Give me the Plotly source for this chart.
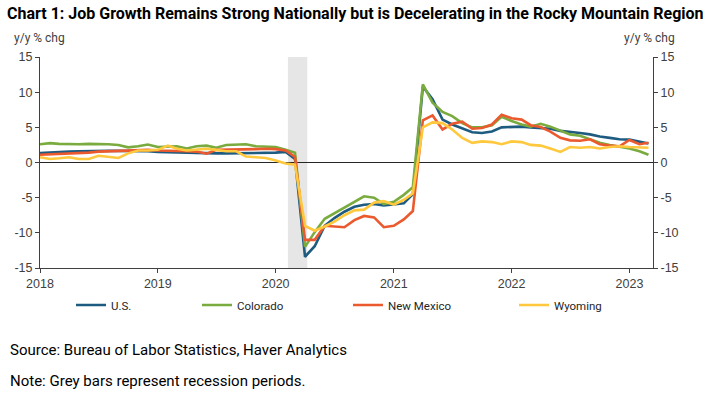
import pandas as pd
import plotly.graph_objects as go

# ---- data (y/y % change, monthly Jan 2018 - Mar 2023) ----
months = pd.date_range("2018-01-01", "2023-03-01", freq="MS")

us = [1.35, 1.45, 1.5, 1.55, 1.6, 1.65, 1.65, 1.65, 1.65, 1.65, 1.65, 1.6,
      1.5, 1.45, 1.4, 1.4, 1.35, 1.3, 1.3, 1.3, 1.3, 1.3, 1.35, 1.35,
      1.4, 1.5, 0.5, -13.4, -11.9, -9.0, -7.9, -7.0, -6.3, -6.0, -5.9, -6.1,
      -6.0, -5.8, -4.5, 10.8, 9.0, 6.1, 5.4, 4.9, 4.3, 4.2, 4.4, 5.0,
      5.05, 5.1, 5.0, 4.9, 4.8, 4.5, 4.4, 4.2, 4.0, 3.7, 3.5, 3.3,
      3.25, 3.0, 2.7]

colorado = [2.6, 2.75, 2.65, 2.6, 2.6, 2.65, 2.65, 2.6, 2.5, 2.15, 2.3, 2.55,
            2.2, 2.3, 2.3, 2.0, 2.3, 2.4, 2.1, 2.5, 2.55, 2.6, 2.3, 2.2,
            2.2, 1.8, 1.4, -12.0, -9.9, -8.0, -7.2, -6.4, -5.6, -4.8, -5.0, -5.9,
            -5.6, -4.6, -3.5, 11.1, 8.5, 7.2, 6.6, 5.6, 5.0, 5.0, 5.3, 6.5,
            5.9, 5.4, 5.1, 5.5, 5.1, 4.5, 4.0, 3.8, 3.3, 2.8, 2.5, 2.3,
            2.0, 1.6, 1.1]

new_mexico = [1.1, 1.15, 1.2, 1.25, 1.3, 1.4, 1.55, 1.6, 1.7, 1.75, 1.8, 1.8,
              1.7, 1.7, 1.65, 1.6, 1.55, 1.25, 1.8, 1.8, 1.8, 1.85, 1.9, 1.95,
              1.9, 1.7, 0.8, -11.0, -11.0, -9.0, -9.1, -9.2, -8.2, -7.6, -7.8, -9.2,
              -9.0, -8.1, -6.9, 6.0, 6.7, 4.7, 5.5, 5.8, 4.8, 4.9, 5.4, 6.8,
              6.3, 6.1, 5.3, 5.05, 4.4, 3.5, 3.15, 3.1, 3.3, 2.6, 2.4, 2.3,
              3.2, 2.6, 2.8]

wyoming = [0.75, 0.5, 0.6, 0.75, 0.5, 0.5, 0.95, 0.75, 0.65, 1.3, 1.7, 1.7,
           1.8, 2.4, 1.95, 1.7, 1.8, 1.95, 1.8, 1.6, 1.6, 0.85, 0.75, 0.65,
           0.3, -0.15, -0.3, -9.0, -9.7, -9.1, -8.4, -7.5, -6.8, -6.7, -5.7, -5.5,
           -6.0, -5.3, -4.4, 5.0, 5.7, 5.6, 4.7, 3.5, 2.8, 3.0, 2.9, 2.6,
           3.0, 2.9, 2.5, 2.4, 2.0, 1.5, 2.2, 2.1, 2.2, 2.0, 2.2, 2.3,
           2.2, 2.1, 2.1]

series_names = ["U.S.", "Colorado", "New Mexico", "Wyoming"]
series_colors = ["#1E5B80", "#7AAB3E", "#EB5A2E", "#FFC83D"]

recession_start = "2020-02-08"
recession_end = "2020-04-08"

y_ticks = [-15, -10, -5, 0, 5, 10, 15]
y_ticktext = ["-15", "-10", "-5", "0", "5", "10", "15"]
x_tickvals = ["2018-01-01", "2019-01-01", "2020-01-01", "2021-01-01", "2022-01-01", "2023-01-01"]
x_ticktext = ["2018", "2019", "2020", "2021", "2022", "2023"]

# ---- layout geometry ----
W, H = 725, 399
PL, PR, PT, PB = 40, 653, 57, 268


def px_x(x):
    return (x - PL) / (PR - PL)


def px_y(y):
    return (PB - y) / (PB - PT)


FONT = "Roboto, Liberation Sans, Arial, sans-serif"
TICKF = "Liberation Sans, Arial, sans-serif"

fig = go.Figure()

legend_ids = ["legend", "legend2", "legend3", "legend4"]
for name, vals, col, lg in zip(series_names, [us, colorado, new_mexico, wyoming], series_colors, legend_ids):
    fig.add_trace(go.Scatter(x=months, y=vals, name=name, mode="lines",
                             line=dict(color=col, width=2.6), legend=lg))

# invisible trace to anchor the right axis
fig.add_trace(go.Scatter(x=[months[0]], y=[None], yaxis="y2", showlegend=False,
                         hoverinfo="skip", mode="lines"))

fig.add_shape(type="rect", xref="x", yref="y", x0=recession_start, x1=recession_end,
              y0=-15, y1=15, fillcolor="#E6E6E6", line=dict(width=0), layer="below")

axis_common = dict(showgrid=False, showline=True, linecolor="#404040", linewidth=1,
                   ticks="outside", ticklen=4, tickcolor="#404040",
                   tickfont=dict(family=TICKF, size=12.5, color="#404040"))

fig.update_layout(
    width=W, height=H,
    margin=dict(l=PL, r=W - PR, t=PT, b=H - PB, pad=0),
    paper_bgcolor="white", plot_bgcolor="white",
    title=dict(text="<b>Chart 1: Job Growth Remains Strong Nationally but is Decelerating in the Rocky Mountain Region</b>",
               x=7 / W, xanchor="left", y=1 - 13 / H, yanchor="middle", yref="container",
               font=dict(family=FONT, size=16.0, color="#000000")),
    xaxis=dict(type="date", range=["2018-01-01", "2023-03-15"], tickvals=x_tickvals,
               ticktext=x_ticktext, **axis_common),
    yaxis=dict(range=[-15, 15], tickvals=y_ticks, ticktext=y_ticktext,
               zeroline=True, zerolinecolor="#262626", zerolinewidth=1, **axis_common),
    yaxis2=dict(range=[-15, 15], tickvals=y_ticks, ticktext=y_ticktext, overlaying="y",
                side="right", zeroline=False, **axis_common),
    showlegend=True,
)

leg_text_x = [111, 237, 388, 554]
for lg, tx in zip(legend_ids, leg_text_x):
    fig.update_layout({lg: dict(orientation="h", x=px_x(tx - 40), xanchor="left",
                                y=px_y(305), yanchor="middle", bgcolor="rgba(0,0,0,0)",
                                font=dict(family=FONT, size=11.5, color="#262626"),
                                itemwidth=30, tracegroupgap=0)})

ann_font = dict(family=FONT, size=12, color="#404040")
fig.add_annotation(text="y/y % chg", xref="paper", yref="paper", x=px_x(12), y=px_y(38),
                   xanchor="left", yanchor="middle", showarrow=False, font=ann_font)
fig.add_annotation(text="y/y % chg", xref="paper", yref="paper", x=px_x(622), y=px_y(38),
                   xanchor="left", yanchor="middle", showarrow=False, font=ann_font)
foot_font = dict(family=FONT, size=15, color="#000000")
fig.add_annotation(text="Source: Bureau of Labor Statistics, Haver Analytics", xref="paper", yref="paper",
                   x=px_x(8), y=px_y(350), xanchor="left", yanchor="middle", showarrow=False, font=foot_font)
fig.add_annotation(text="Note: Grey bars represent recession periods.", xref="paper", yref="paper",
                   x=px_x(8), y=px_y(381), xanchor="left", yanchor="middle", showarrow=False, font=foot_font)

fig.write_html("out.html", config={"displayModeBar": False},
               post_script="document.body.style.margin='0px';")
